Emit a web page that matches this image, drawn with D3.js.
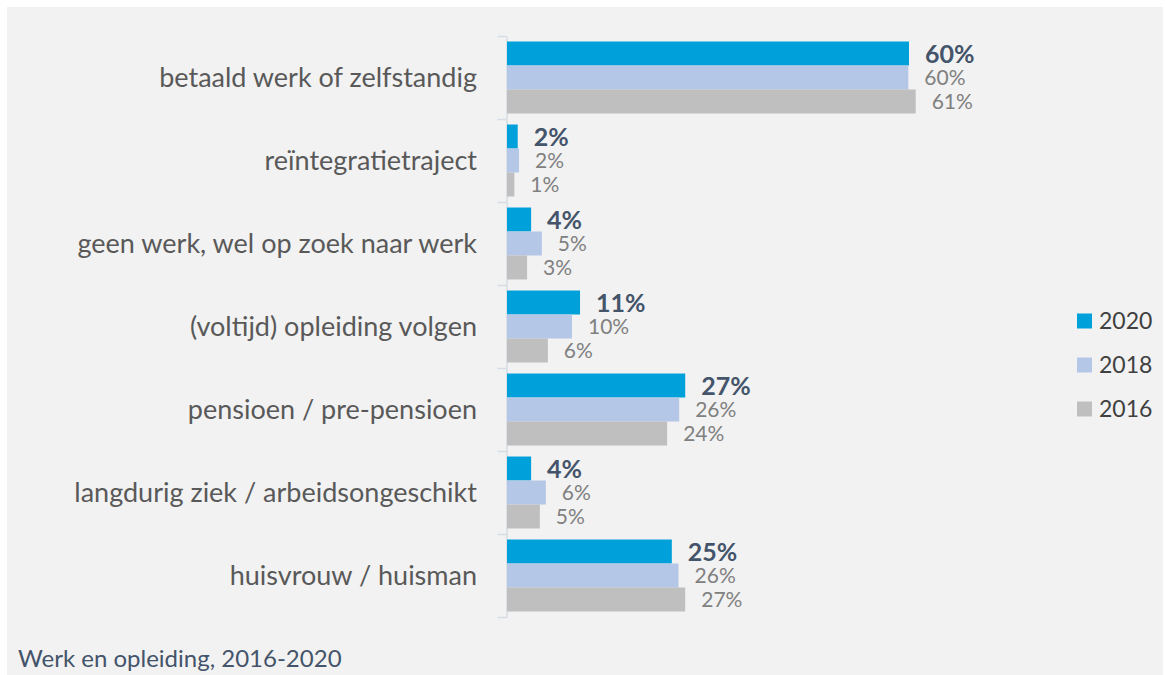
<!DOCTYPE html>
<html>
<head>
<meta charset="utf-8">
<script src="https://cdn.jsdelivr.net/npm/d3@7"></script>
<style>
  html, body { margin: 0; padding: 0; background: #fff; }
  svg { display: block; font-family: Lato, "Open Sans", sans-serif; }
</style>
</head>
<body>
<div id="chart"></div>
<script>
// categories, top to bottom
const categories = [
  "betaald werk of zelfstandig",
  "reïntegratietraject",
  "geen werk, wel op zoek naar werk",
  "(voltijd) opleiding volgen",
  "pensioen / pre-pensioen",
  "langdurig ziek / arbeidsongeschikt",
  "huisvrouw / huisman"
];
const years = ["2020", "2018", "2016"];

// percentages per year
const values2020 = [60.0, 1.6, 3.6, 10.9, 26.6, 3.6, 24.6];
const values2018 = [59.9, 1.8, 5.2, 9.7, 25.7, 5.8, 25.6];
const values2016 = [61.0, 1.1, 3.0, 6.1, 23.9, 4.9, 26.6];

const colors = ["#00a1da", "#b4c7e7", "#bfbfbf"];

const width = 1165;
const height = 675;

const series = [values2020, values2018, values2016];
const rows = categories.map((c, i) => ({
  cat: c,
  vals: years.map((y, j) => ({ year: y, value: series[j][i] }))
}));

const svg = d3.select("#chart").append("svg")
  .attr("width", width)
  .attr("height", height);

// chart area background
svg.append("rect")
  .attr("x", 7).attr("y", 7)
  .attr("width", 1156).attr("height", height - 7)
  .attr("fill", "#f2f2f2");

const y = d3.scaleBand()
  .domain(categories)
  .range([36, 617])
  .paddingInner(0);

const yInner = d3.scaleBand()
  .domain(years)
  .range([0, y.bandwidth()])
  .paddingInner(0)
  .paddingOuter(0.23);

const x = d3.scaleLinear()
  .domain([0, 100])
  .range([507, 1177]);

// category axis with ticks between categories
const yBound = d3.scaleLinear().domain([0, categories.length]).range(y.range());
const axisG = svg.append("g")
  .attr("transform", `translate(${x(0) - 0.5},0)`)
  .call(d3.axisLeft(yBound)
    .tickValues(d3.range(categories.length + 1))
    .tickSize(9)
    .tickSizeOuter(0)
    .tickFormat(""));
axisG.selectAll("path, line").attr("stroke", "#d6dce5").attr("stroke-width", 1.5);

// category labels
svg.append("g")
  .selectAll("text")
  .data(categories)
  .join("text")
  .attr("x", 477)
  .attr("y", d => y(d) + y.bandwidth() / 2)
  .attr("dy", "0.35em")
  .attr("text-anchor", "end")
  .attr("fill", "#595959")
  .attr("font-size", 27)
  .text(d => d);

const group = svg.append("g")
  .selectAll("g")
  .data(rows)
  .join("g")
  .attr("transform", d => `translate(0,${y(d.cat)})`);

group.selectAll("rect")
  .data(d => d.vals)
  .join("rect")
  .attr("x", x(0))
  .attr("y", d => yInner(d.year))
  .attr("width", d => x(d.value) - x(0))
  .attr("height", yInner.bandwidth())
  .attr("fill", d => colors[years.indexOf(d.year)]);

group.selectAll("text")
  .data(d => d.vals)
  .join("text")
  .attr("x", d => x(d.value) + 16)
  .attr("y", d => yInner(d.year) + yInner.bandwidth() / 2)
  .attr("dy", "0.36em")
  .attr("fill", d => d.year === "2020" ? "#44546a" : "#808080")
  .attr("font-weight", d => d.year === "2020" ? 700 : 400)
  .attr("font-size", d => d.year === "2020" ? 25 : 21)
  .text(d => d3.format(".0f")(d.value) + "%");

// legend
const legend = svg.append("g")
  .selectAll("g")
  .data(years)
  .join("g")
  .attr("transform", (d, i) => `translate(1077,${321 + i * 44})`);

legend.append("rect")
  .attr("x", 0).attr("y", -7.5)
  .attr("width", 15).attr("height", 15)
  .attr("fill", (d, i) => colors[i]);

legend.append("text")
  .attr("x", 22)
  .attr("dy", "0.36em")
  .attr("fill", "#404040")
  .attr("font-size", 23)
  .text(d => d);

// footer title
svg.append("text")
  .attr("x", 18)
  .attr("y", 667)
  .attr("fill", "#44546a")
  .attr("font-size", 24)
  .text("Werk en opleiding, 2016-2020");
</script>
</body>
</html>
